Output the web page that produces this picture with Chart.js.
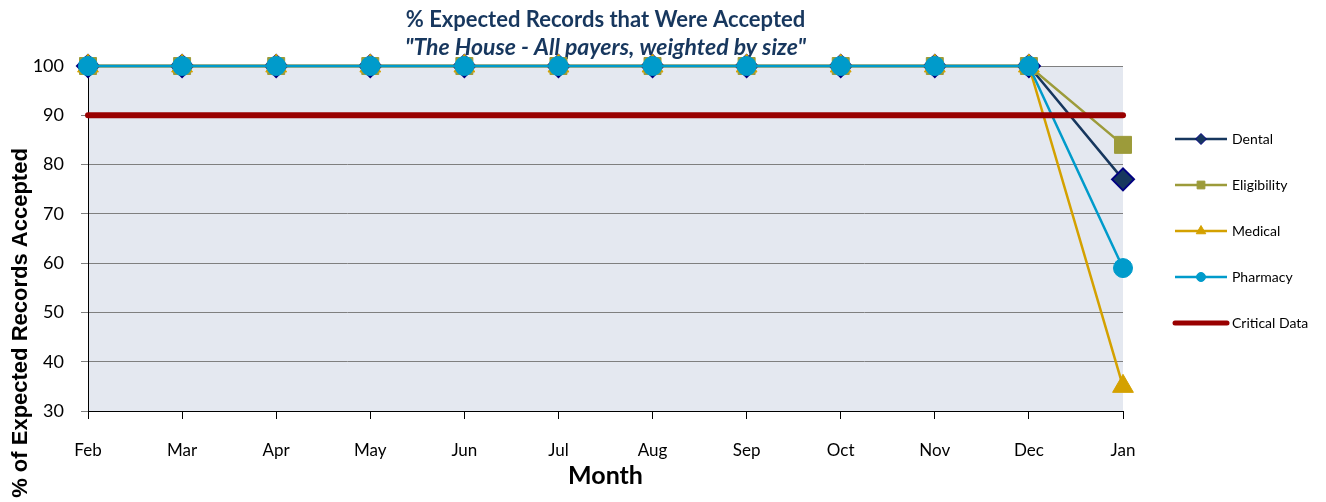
<!DOCTYPE html>
<html>
<head>
    <title>% Expected Records that Were Accepted</title>
    <script src="https://cdn.jsdelivr.net/npm/chart.js"></script>
    <style>
        body { margin: 0; background: #fff; }
        #wrap { width: 1326px; height: 502px; }
    </style>
</head>
<body>
    <div id="wrap"><canvas id="acceptChart" width="1326" height="502"></canvas></div>
    <script>
        const months = ['Feb', 'Mar', 'Apr', 'May', 'Jun', 'Jul', 'Aug', 'Sep', 'Oct', 'Nov', 'Dec', 'Jan'];
        const dental = [100, 100, 100, 100, 100, 100, 100, 100, 100, 100, 100, 77];
        const eligibility = [100, 100, 100, 100, 100, 100, 100, 100, 100, 100, 100, 84];
        const medical = [100, 100, 100, 100, 100, 100, 100, 100, 100, 100, 100, 35];
        const pharmacy = [100, 100, 100, 100, 100, 100, 100, 100, 100, 100, 100, 59];
        const criticalData = [90, 90, 90, 90, 90, 90, 90, 90, 90, 90, 90, 90];

        // grey-blue plot background
        const plotBg = {
            id: 'plotBg',
            beforeDraw(chart) {
                const a = chart.chartArea;
                const ctx = chart.ctx;
                ctx.save();
                ctx.fillStyle = '#E4E8F0';
                ctx.fillRect(a.left, a.top, a.right - a.left, a.bottom - a.top);
                ctx.restore();
            }
        };

        // y axis title sits lower than the plot centre in the original
        const yTitle = {
            id: 'yTitle',
            afterDraw(chart) {
                const ctx = chart.ctx;
                ctx.save();
                ctx.translate(21, 323);
                ctx.rotate(-Math.PI / 2);
                ctx.font = 'bold 22px "Liberation Sans", Arial, sans-serif';
                ctx.fillStyle = '#000';
                ctx.textAlign = 'center';
                ctx.textBaseline = 'middle';
                ctx.fillText('% of Expected Records Accepted', 0, 0);
                ctx.restore();
            }
        };

        // legend on the right: line sample with marker in the middle
        const sideLegend = {
            id: 'sideLegend',
            afterDraw(chart) {
                const ctx = chart.ctx;
                chart.data.datasets.forEach((ds, i) => {
                    const y = 139 + i * 46;
                    const critical = ds.label === 'Critical Data';
                    ctx.save();
                    ctx.strokeStyle = ds.borderColor;
                    ctx.lineWidth = critical ? 5 : 2.5;
                    ctx.lineCap = critical ? 'round' : 'butt';
                    ctx.beginPath();
                    ctx.moveTo(1175, y);
                    ctx.lineTo(1227, y);
                    ctx.stroke();
                    if (!critical) {
                        ctx.fillStyle = ds.pointBackgroundColor;
                        ctx.strokeStyle = ds.pointBorderColor;
                        ctx.lineWidth = 1;
                        Chart.helpers.drawPoint(ctx, {
                            pointStyle: ds.pointStyle,
                            radius: ds.pointStyle === 'circle' ? 4.5 : 5.5,
                            rotation: 0,
                            borderWidth: 1
                        }, 1201, y);
                    }
                    ctx.fillStyle = '#000';
                    ctx.font = '14px Lato, "Open Sans", sans-serif';
                    ctx.textAlign = 'left';
                    ctx.textBaseline = 'middle';
                    ctx.fillText(ds.label, 1232, y);
                    ctx.restore();
                });
            }
        };

        const ctx = document.getElementById('acceptChart').getContext('2d');
        const chart = new Chart(ctx, {
            type: 'line',
            data: {
                labels: months,
                datasets: [{
                    label: 'Dental',
                    data: dental,
                    borderColor: '#17375E',
                    borderWidth: 2.5,
                    pointStyle: 'rectRot',
                    pointRadius: 11,
                    pointBackgroundColor: '#17375E',
                    pointBorderColor: '#000080',
                    pointBorderWidth: 2,
                    order: 4,
                    clip: false
                }, {
                    label: 'Eligibility',
                    data: eligibility,
                    borderColor: '#9C9B3A',
                    borderWidth: 2.5,
                    pointStyle: 'rect',
                    pointRadius: 12,
                    pointBackgroundColor: '#9C9B3A',
                    pointBorderColor: '#9C9B3A',
                    pointBorderWidth: 1,
                    order: 3,
                    clip: false
                }, {
                    label: 'Medical',
                    data: medical,
                    borderColor: '#D4A100',
                    borderWidth: 2.5,
                    pointStyle: 'triangle',
                    pointRadius: 12,
                    pointBackgroundColor: '#D4A100',
                    pointBorderColor: '#D4A100',
                    pointBorderWidth: 1,
                    order: 2,
                    clip: false
                }, {
                    label: 'Pharmacy',
                    data: pharmacy,
                    borderColor: '#009BCB',
                    borderWidth: 2.5,
                    pointStyle: 'circle',
                    pointRadius: 9.5,
                    pointBackgroundColor: '#009BCB',
                    pointBorderColor: '#009BCB',
                    pointBorderWidth: 1,
                    order: 1,
                    clip: false
                }, {
                    label: 'Critical Data',
                    data: criticalData,
                    borderColor: '#990000',
                    borderWidth: 6,
                    borderCapStyle: 'round',
                    pointRadius: 0,
                    pointStyle: false,
                    order: 0,
                    clip: false
                }]
            },
            options: {
                responsive: false,
                animation: false,
                layout: {
                    padding: { left: 0, right: 203, top: 0, bottom: 0 }
                },
                plugins: {
                    legend: { display: false },
                    tooltip: { enabled: false },
                    title: {
                        display: true,
                        fullSize: false,
                        text: '% Expected Records that Were Accepted',
                        color: '#17375E',
                        font: { family: 'Lato, "Open Sans", sans-serif', size: 22, weight: 'bold' },
                        padding: { top: 7, bottom: 0 }
                    },
                    subtitle: {
                        display: true,
                        fullSize: false,
                        text: '"The House - All payers, weighted by size"',
                        color: '#17375E',
                        font: { family: 'Lato, "Open Sans", sans-serif', size: 23, weight: 'bold', style: 'italic' },
                        padding: { top: 0, bottom: 5 }
                    }
                },
                scales: {
                    x: {
                        offset: false,
                        grid: {
                            drawOnChartArea: false,
                            color: '#000',
                            tickLength: 8
                        },
                        border: { color: '#000', width: 1 },
                        ticks: {
                            color: '#000',
                            padding: 21,
                            maxRotation: 0,
                            font: { family: 'Lato, "Open Sans", sans-serif', size: 17 }
                        },
                        title: {
                            display: true,
                            text: 'Month',
                            color: '#000',
                            font: { family: 'Lato, "Open Sans", sans-serif', size: 25, weight: 'bold' },
                            padding: { top: 0, bottom: 11 }
                        },
                        afterFit(scale) { scale.height = 91; }
                    },
                    y: {
                        min: 30,
                        max: 100,
                        ticks: {
                            stepSize: 10,
                            color: '#000',
                            padding: 17,
                            font: { family: 'Lato, "Open Sans", sans-serif', size: 18 }
                        },
                        grid: {
                            color: '#7F7F7F',
                            tickLength: 7
                        },
                        border: { color: '#000', width: 1 },
                        afterFit(scale) { scale.width = 88; }
                    }
                }
            },
            plugins: [plotBg, yTitle, sideLegend]
        });
    </script>
</body>
</html>
